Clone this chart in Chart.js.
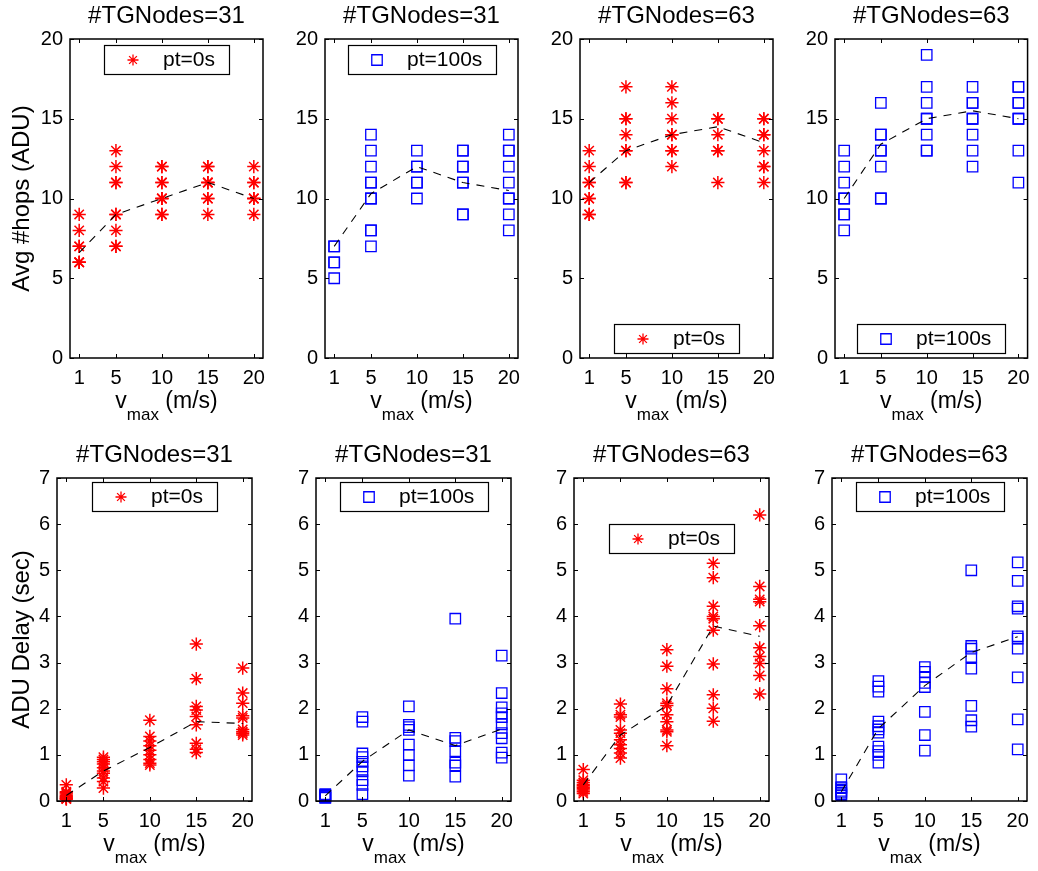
<!DOCTYPE html>
<html>
<head>
<meta charset="utf-8">
<script src="https://cdn.jsdelivr.net/npm/chart.js@4.4.1/dist/chart.umd.min.js"></script>
<style>
  html, body { margin: 0; padding: 0; background: #fff; }
  #wrap { position: relative; width: 1038px; height: 871px; }
  #wrap canvas { position: absolute; left: 0; top: 0; }
</style>
</head>
<body>
<div id="wrap"></div>
<script>
// x categories: maximum node speed (m/s)
const vmax = [1, 5, 10, 15, 20];

const hopTicks = [0, 5, 10, 15, 20];
const delayTicks = [0, 1, 2, 3, 4, 5, 6, 7];

const titles = ['#TGNodes=31', '#TGNodes=31', '#TGNodes=63', '#TGNodes=63'];
const legendLabels = ['pt=0s', 'pt=100s'];
const yTitles = ['Avg #hops (ADU)', 'ADU Delay (sec)'];

// Avg #hops per run, one inner list per vmax value
const hops31_pt0 = [
  [9, 8, 7, 7, 6, 6, 6],
  [13, 12, 11, 11, 9, 9, 8, 7, 7],
  [12, 12, 11, 11, 10, 10, 10, 9, 9],
  [12, 12, 11, 11, 11, 10, 10, 9],
  [12, 11, 11, 10, 10, 10, 9]
];
const hops31_pt0_mean = [6.6, 9.0, 10.0, 11.0, 10.0];

const hops31_pt100 = [
  [7, 7, 6, 6, 5],
  [14, 13, 12, 11, 11, 10, 10, 8, 8, 7],
  [13, 12, 12, 11, 11, 10],
  [13, 13, 12, 12, 11, 11, 9, 9],
  [14, 13, 13, 12, 11, 10, 10, 9, 8]
];
const hops31_pt100_mean = [7.0, 10.3, 12.0, 11.0, 10.5];

const hops63_pt0 = [
  [13, 12, 11, 11, 10, 10, 9, 9],
  [17, 15, 15, 14, 13, 13, 11, 11],
  [17, 16, 15, 14, 14, 13, 13, 12],
  [15, 15, 14, 13, 13, 11],
  [15, 15, 14, 14, 13, 12, 12, 11]
];
const hops63_pt0_mean = [11.0, 13.0, 14.0, 14.5, 13.5];

const hops63_pt100 = [
  [13, 12, 11, 10, 10, 9, 9, 8],
  [16, 14, 14, 13, 13, 12, 10, 10],
  [19, 17, 16, 15, 15, 14, 13, 13],
  [17, 16, 16, 15, 15, 14, 13, 12],
  [17, 17, 16, 16, 15, 15, 13, 11]
];
const hops63_pt100_mean = [10.0, 13.4, 15.0, 15.5, 15.0];

// ADU delay (sec) per run
const delay31_pt0 = [
  [0.35, 0.2, 0.18, 0.15, 0.12, 0.1, 0.08, 0.06, 0.05, 0.04],
  [0.95, 0.9, 0.85, 0.8, 0.72, 0.65, 0.6, 0.5, 0.42, 0.28],
  [1.75, 1.4, 1.3, 1.2, 1.1, 1.0, 0.9, 0.82, 0.78],
  [3.4, 2.65, 2.05, 1.97, 1.83, 1.65, 1.25, 1.12, 1.05],
  [2.88, 2.34, 2.12, 1.85, 1.8, 1.55, 1.5, 1.47, 1.43]
];
const delay31_pt0_mean = [0.12, 0.65, 1.16, 1.72, 1.68];

const delay31_pt100 = [
  [0.15, 0.13, 0.12, 0.1, 0.1, 0.08, 0.07],
  [1.82, 1.72, 1.03, 0.95, 0.85, 0.75, 0.64, 0.45, 0.35, 0.15],
  [2.05, 1.65, 1.6, 1.54, 1.22, 1.0, 0.77, 0.55],
  [3.95, 1.37, 1.3, 1.08, 0.83, 0.77, 0.53],
  [3.15, 2.34, 2.03, 1.9, 1.82, 1.66, 1.47, 1.36, 1.05, 0.94]
];
const delay31_pt100_mean = [0.11, 0.86, 1.54, 1.2, 1.56];

const delay63_pt0 = [
  [0.68, 0.45, 0.4, 0.36, 0.33, 0.3, 0.27, 0.24, 0.2, 0.16],
  [2.1, 1.87, 1.82, 1.54, 1.47, 1.33, 1.22, 1.14, 1.04, 0.93],
  [3.28, 2.92, 2.43, 2.12, 2.07, 1.87, 1.72, 1.54, 1.5, 1.2],
  [5.15, 4.84, 4.22, 4.0, 3.95, 3.7, 2.97, 2.3, 2.01, 1.73],
  [6.2, 4.65, 4.37, 4.32, 3.8, 3.32, 3.13, 2.98, 2.72, 2.32]
];
const delay63_pt0_mean = [0.35, 1.43, 2.07, 3.79, 3.57];

const delay63_pt100 = [
  [0.47, 0.3, 0.28, 0.22, 0.18, 0.15, 0.12],
  [2.6, 2.48, 2.37, 1.72, 1.62, 1.55, 1.48, 1.18, 1.08, 1.0, 0.83],
  [2.9, 2.8, 2.69, 2.56, 2.47, 1.93, 1.43, 1.09],
  [5.0, 3.36, 3.3, 3.12, 2.87, 2.06, 1.75, 1.61],
  [5.17, 4.77, 4.22, 4.17, 3.57, 3.52, 3.3, 2.68, 1.77, 1.12]
];
const delay63_pt100_mean = [0.2, 1.57, 2.5, 3.22, 3.56];

// ---------------------------------------------------------------------
const FONT = '"Liberation Sans", Arial, Helvetica, sans-serif';
const W = 1038, H = 871;

// plot-area frames per row / column (page pixels)
const rowBox = [{ top: 39, bottom: 358 }, { top: 478, bottom: 801 }];
const colBox = [
  [[70, 263], [325, 518], [580, 773], [835, 1028]],
  [[57, 252], [316, 511], [574, 769], [832, 1027]]
];

const seriesStyle = [
  { color: '#ff0000', style: 'star', r: 6.6, lw: 1.5 },
  { color: '#0000ff', style: 'rect', r: 7.4, lw: 1.3 }
];

// legend placement: 'n' = just under the top frame, 's' = just above the bottom frame
const panels = [
  { row: 0, col: 0, samples: hops31_pt0,    mean: hops31_pt0_mean,    series: 0, leg: ['n', 6] },
  { row: 0, col: 1, samples: hops31_pt100,  mean: hops31_pt100_mean,  series: 1, leg: ['n', 6] },
  { row: 0, col: 2, samples: hops63_pt0,    mean: hops63_pt0_mean,    series: 0, leg: ['s', 5] },
  { row: 0, col: 3, samples: hops63_pt100,  mean: hops63_pt100_mean,  series: 1, leg: ['s', 5] },
  { row: 1, col: 0, samples: delay31_pt0,   mean: delay31_pt0_mean,   series: 0, leg: ['n', 4] },
  { row: 1, col: 1, samples: delay31_pt100, mean: delay31_pt100_mean, series: 1, leg: ['n', 4] },
  { row: 1, col: 2, samples: delay63_pt0,   mean: delay63_pt0_mean,   series: 0, leg: ['n', 46] },
  { row: 1, col: 3, samples: delay63_pt100, mean: delay63_pt100_mean, series: 1, leg: ['n', 4] }
];

function drawMarker(ctx, style, x, y, r, color) {
  ctx.save();
  ctx.strokeStyle = color;
  ctx.lineWidth = 1.3;
  ctx.beginPath();
  if (style === 'star') {
    for (let k = 0; k < 4; k++) {
      const a = k * Math.PI / 4;
      ctx.moveTo(x + Math.cos(a) * r, y + Math.sin(a) * r);
      ctx.lineTo(x - Math.cos(a) * r, y - Math.sin(a) * r);
    }
  } else {
    const s = Math.SQRT1_2 * r;
    ctx.rect(x - s, y - s, 2 * s, 2 * s);
  }
  ctx.stroke();
  ctx.restore();
}

function makeDecor(p) {
  return {
    id: 'decor',
    afterDatasetsDraw(chart) {
      const { ctx, chartArea: a, scales } = chart;
      const xs = scales.x, ys = scales.y;
      ctx.save();
      // frame
      ctx.strokeStyle = '#000';
      ctx.lineWidth = 1.5;
      ctx.strokeRect(a.left, a.top, a.right - a.left, a.bottom - a.top);
      // inward tick marks on all four sides
      const tl = 4;
      ctx.lineWidth = 1;
      ctx.beginPath();
      xs.ticks.forEach(t => {
        const px = Math.round(xs.getPixelForValue(t.value)) + 0.5;
        ctx.moveTo(px, a.bottom); ctx.lineTo(px, a.bottom - tl);
        ctx.moveTo(px, a.top); ctx.lineTo(px, a.top + tl);
      });
      ys.ticks.forEach(t => {
        const py = Math.round(ys.getPixelForValue(t.value)) + 0.5;
        ctx.moveTo(a.left, py); ctx.lineTo(a.left + tl, py);
        ctx.moveTo(a.right, py); ctx.lineTo(a.right - tl, py);
      });
      ctx.stroke();

      // legend box
      const st = seriesStyle[p.series];
      const label = legendLabels[p.series];
      ctx.font = '21px ' + FONT;
      const tw = ctx.measureText(label).width;
      const bw = Math.round(59 + tw + 14), bh = 29;
      const bx = Math.round((a.left + a.right) / 2 - bw / 2);
      const by = p.leg[0] === 'n' ? a.top + p.leg[1] : a.bottom - p.leg[1] - bh;
      ctx.fillStyle = '#fff';
      ctx.fillRect(bx, by, bw, bh);
      ctx.strokeStyle = '#000';
      ctx.lineWidth = 1.2;
      ctx.strokeRect(bx + 0.5, by + 0.5, bw, bh);
      drawMarker(ctx, st.style, bx + 29, by + bh / 2 + 0.5, st.style === 'star' ? 5.5 : 7.4, st.color);
      ctx.fillStyle = '#000';
      ctx.textAlign = 'left';
      ctx.textBaseline = 'middle';
      ctx.fillText(label, bx + 59, by + bh / 2 + 1);
      ctx.restore();
    },
    afterDraw(chart) {
      const { ctx, chartArea: a } = chart;
      const cx = (a.left + a.right) / 2;
      ctx.save();
      ctx.fillStyle = '#000';
      // panel title
      ctx.font = '24px ' + FONT;
      ctx.textAlign = 'center';
      ctx.textBaseline = 'alphabetic';
      ctx.fillText(titles[p.col], cx, a.top - 16);
      // x-axis title: v_max (m/s)
      const fMain = '23px ' + FONT, fSub = '17px ' + FONT;
      ctx.font = fMain;
      const wv = ctx.measureText('v').width;
      const wu = ctx.measureText(' (m/s)').width;
      ctx.font = fSub;
      const wm = ctx.measureText('max').width;
      let x0 = cx - (wv + wm + wu) / 2;
      ctx.textAlign = 'left';
      ctx.font = fMain;
      ctx.fillText('v', x0, a.bottom + 50);
      ctx.font = fSub;
      ctx.fillText('max', x0 + wv, a.bottom + 62);
      ctx.font = fMain;
      ctx.fillText(' (m/s)', x0 + wv + wm, a.bottom + 50);
      // y-axis title on the first column
      if (p.col === 0) {
        ctx.translate(22, (a.top + a.bottom) / 2);
        ctx.rotate(-Math.PI / 2);
        ctx.font = '24px ' + FONT;
        ctx.textAlign = 'center';
        ctx.textBaseline = 'middle';
        ctx.fillText(yTitles[p.row], 0, 0);
      }
      ctx.restore();
    }
  };
}

const wrap = document.getElementById('wrap');

function buildPanel(p) {
  const canvas = document.createElement('canvas');
  canvas.width = W; canvas.height = H;
  wrap.appendChild(canvas);
  const [L, R] = colBox[p.row][p.col];
  const { top, bottom } = rowBox[p.row];
  const yAxisW = 40, xAxisH = 40;
  const st = seriesStyle[p.series];
  const yTickVals = p.row === 0 ? hopTicks : delayTicks;

  const points = [];
  p.samples.forEach((vals, i) => vals.forEach(v => points.push({ x: vmax[i], y: v })));
  const meanPoints = p.mean.map((v, i) => ({ x: vmax[i], y: v }));

  const tickFont = { family: FONT, size: 20 };

  new Chart(canvas, {
    type: 'scatter',
    data: {
      datasets: [
        {
          label: legendLabels[p.series],
          data: points,
          showLine: false,
          pointStyle: st.style,
          pointRadius: st.r,
          pointHoverRadius: st.r,
          pointBorderWidth: st.lw,
          borderColor: st.color,
          backgroundColor: 'rgba(0,0,0,0)',
          clip: false,
          order: 1
        },
        {
          label: 'mean',
          data: meanPoints,
          showLine: true,
          borderColor: '#000',
          borderWidth: 1.1,
          borderDash: [8, 7],
          pointRadius: 0,
          pointHoverRadius: 0,
          fill: false,
          clip: false,
          order: 0
        }
      ]
    },
    options: {
      responsive: false,
      animation: false,
      devicePixelRatio: 1,
      events: [],
      layout: { padding: { left: L - yAxisW, right: W - R, top: top, bottom: H - bottom - xAxisH } },
      plugins: { legend: { display: false }, tooltip: { enabled: false }, title: { display: false } },
      scales: {
        x: {
          type: 'linear', min: 0, max: 21,
          afterBuildTicks: s => { s.ticks = vmax.map(v => ({ value: v })); },
          afterFit: s => { s.height = xAxisH; },
          grid: { display: false, drawTicks: false },
          border: { display: false },
          ticks: { padding: 8, color: '#000', font: tickFont, autoSkip: false, maxRotation: 0 }
        },
        y: {
          type: 'linear', min: 0, max: yTickVals[yTickVals.length - 1],
          afterBuildTicks: s => { s.ticks = yTickVals.map(v => ({ value: v })); },
          afterFit: s => { s.width = yAxisW; },
          grid: { display: false, drawTicks: false },
          border: { display: false },
          ticks: { padding: 7, color: '#000', font: tickFont, autoSkip: false }
        }
      }
    },
    plugins: [makeDecor(p)]
  });
}

panels.forEach(buildPanel);
</script>
</body>
</html>
